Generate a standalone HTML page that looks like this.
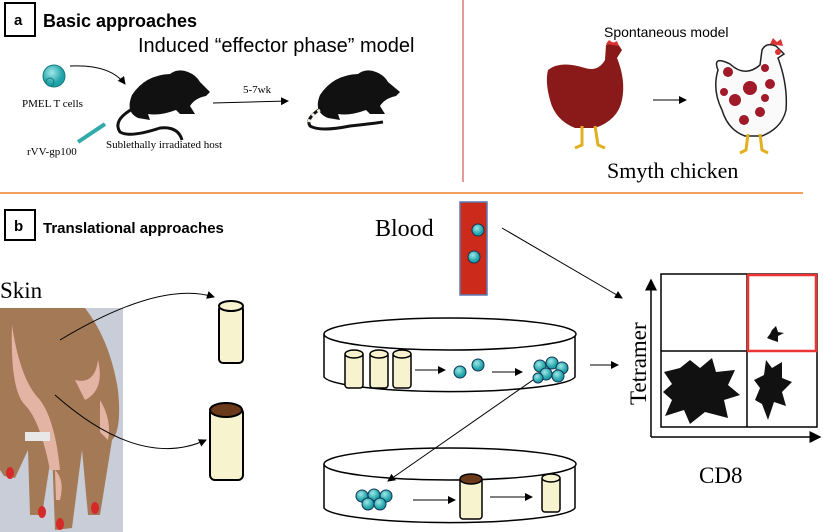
<!DOCTYPE html>
<html><head><style>body{margin:0;background:#fff}svg{display:block}</style></head><body>
<svg width="823" height="532" xmlns="http://www.w3.org/2000/svg" font-family="Liberation Serif, serif">
<defs><marker id="a" markerWidth="8" markerHeight="8" refX="7" refY="4" orient="auto"><path d="M0,0L8,4L0,8z" fill="#000"/></marker>
<radialGradient id="c" cx="40%" cy="35%"><stop offset="0" stop-color="#9fe8e8"/><stop offset="1" stop-color="#1fa3a8"/></radialGradient></defs>
<rect x="5" y="3" width="30" height="33" fill="none" stroke="#000" stroke-width="2"/>
<text x="14" y="25" font-family="Liberation Sans" font-weight="bold" font-size="15">a</text>
<text x="43" y="27" font-family="Liberation Sans" font-weight="bold" font-size="18">Basic approaches</text>
<text x="138" y="52" font-family="Liberation Sans" font-size="20">Induced “effector phase” model</text>
<circle cx="54" cy="76" r="11" fill="url(#c)" stroke="#17797c"/><circle cx="50" cy="82" r="4" fill="none" stroke="#17797c"/>
<text x="22" y="107" font-size="11">PMEL T cells</text>
<path d="M70,66 Q110,64 125,84" fill="none" stroke="#000" marker-end="url(#a)"/>
<line x1="78" y1="142" x2="105" y2="124" stroke="#3aa" stroke-width="4"/>
<text x="27" y="155" font-size="11">rVV-gp100</text>
<text x="106" y="148" font-size="11">Sublethally irradiated host</text>
<path d="M132,95 Q145,75 170,74 Q178,68 188,72 Q196,75 200,82 L210,92 L206,96 Q195,98 190,106 L195,114 L180,114 L176,110 Q160,116 148,114 L150,120 L138,118 Q125,112 132,95z" fill="#111"/>
<path d="M134,108 Q112,120 120,132 Q130,138 160,128 Q178,126 182,140" fill="none" stroke="#111" stroke-width="3"/>
<line x1="213" y1="103" x2="288" y2="101" stroke="#000" marker-end="url(#a)"/>
<text x="243" y="93" font-size="11">5-7wk</text>
<path d="M320,95 Q333,75 358,74 Q366,68 376,72 Q384,75 388,82 L400,92 L396,96 Q385,98 380,106 L385,114 L370,114 L366,110 Q350,116 338,114 L340,120 L328,118 Q313,112 320,95z" fill="#111"/>
<path d="M322,108 Q305,118 310,126 Q320,132 350,126 Q370,124 383,122" fill="none" stroke="#111" stroke-width="3"/>
<path d="M320,110 Q306,118 310,126" fill="none" stroke="#eed" stroke-width="3" stroke-dasharray="3,4"/>
<line x1="463" y1="0" x2="463" y2="182" stroke="#c33"/>
<text x="604" y="37" font-family="Liberation Sans" font-size="14">Spontaneous model</text>
<path d="M548,70 Q560,60 585,68 Q598,72 605,60 L606,45 Q612,40 618,44 L622,50 L617,58 Q626,80 622,100 Q618,120 595,128 L575,128 Q555,120 550,100 Q545,82 548,70z" fill="#8a1a1a"/>
<path d="M606,44 l3,-4 4,3 4,-2 2,5z" fill="#d33"/>
<g stroke="#e0b020" stroke-width="3" fill="none"><path d="M582,126 L582,145 L575,148"/><path d="M595,126 L598,145 L605,148"/></g>
<line x1="653" y1="100" x2="686" y2="100" stroke="#000" marker-end="url(#a)"/>
<path d="M718,70 Q712,55 730,64 Q745,78 760,65 L762,50 Q766,42 776,46 L784,54 L778,58 Q788,85 786,110 Q782,128 762,136 L745,136 Q728,130 722,110 Q712,90 718,70z" fill="#fafafa" stroke="#222" stroke-width="1.5"/>
<path d="M770,44 l3,-6 4,4 4,-3 2,7z" fill="#d33"/><circle cx="778" cy="52" r="3" fill="#d33"/>
<g fill="#a01a2a"><circle cx="728" cy="72" r="5"/><circle cx="750" cy="88" r="7"/><circle cx="735" cy="100" r="6"/><circle cx="760" cy="112" r="5"/><circle cx="770" cy="84" r="5"/><circle cx="724" cy="92" r="4"/><circle cx="744" cy="120" r="5"/><circle cx="765" cy="98" r="4"/><circle cx="765" cy="68" r="4"/></g>
<g stroke="#e0b020" stroke-width="3" fill="none"><path d="M748,134 L746,150 L740,153"/><path d="M760,134 L762,150 L768,153"/></g>
<text x="607" y="178" font-size="22">Smyth chicken</text>
<line x1="0" y1="193" x2="803" y2="193" stroke="#f0a060" stroke-width="2"/>
<rect x="5" y="210" width="30" height="30" fill="none" stroke="#000" stroke-width="2"/>
<text x="14" y="231" font-family="Liberation Sans" font-weight="bold" font-size="15">b</text>
<text x="43" y="233" font-family="Liberation Sans" font-weight="bold" font-size="15">Translational approaches</text>
<text x="0" y="298" font-size="23">Skin</text>
<rect x="0" y="308" width="123" height="224" fill="#c9cdd8"/>
<path d="M0,308 L85,308 Q110,340 118,390 Q122,430 112,440 L100,515 L88,515 L82,450 L72,528 L55,530 L52,450 L42,515 L30,515 L28,450 L15,478 L4,476 L0,470z" fill="#a47a56"/>
<path d="M12,325 Q20,380 40,400 Q55,420 60,470 L50,470 Q40,420 25,405 Q10,390 12,325z" fill="#e3b4a4"/>
<path d="M75,380 Q95,385 98,360 Q105,390 85,400z" fill="#e3b4a4"/>
<path d="M100,400 Q112,420 108,440 L100,432z" fill="#e3b4a4"/>
<path d="M55,470 Q65,480 60,500 L56,500z" fill="#e3b4a4"/>
<rect x="25" y="432" width="25" height="9" fill="#e8e8e8"/>
<g fill="#d42a2a"><ellipse cx="10" cy="473" rx="4" ry="6"/><ellipse cx="42" cy="512" rx="4" ry="6"/><ellipse cx="60" cy="524" rx="4" ry="6"/><ellipse cx="95" cy="508" rx="4" ry="6"/></g>
<path d="M60,340 Q160,280 214,297" fill="none" stroke="#000" marker-end="url(#a)"/>
<path d="M55,395 Q140,470 206,440" fill="none" stroke="#000" marker-end="url(#a)"/>
<g stroke="#000" stroke-width="2"><rect x="219" y="305" width="24" height="58" rx="4" fill="#f7f3cf"/><ellipse cx="231" cy="306" rx="12" ry="5" fill="#f7f3cf"/>
<rect x="210" y="408" width="33" height="72" rx="5" fill="#f7f3cf"/><ellipse cx="226" cy="410" rx="16" ry="7" fill="#6b3a1a"/></g>
<text x="375" y="236" font-size="24">Blood</text>
<rect x="460" y="202" width="27" height="93" fill="#cc2a1a" stroke="#5a7ab0" stroke-width="1.5"/>
<circle cx="478" cy="230" r="6" fill="url(#c)" stroke="#135"/><circle cx="474" cy="257" r="6" fill="url(#c)" stroke="#135"/>
<line x1="502" y1="228" x2="622" y2="298" stroke="#000" marker-end="url(#a)"/>
<g fill="#fff" stroke="#000" stroke-width="1.5">
<path d="M324,334 L324,377 A126,16 0 0 0 575,377 L575,334"/><ellipse cx="450" cy="334" rx="126" ry="16"/>
<path d="M324,464 L324,508 A126,16 0 0 0 575,508 L575,464"/><ellipse cx="450" cy="464" rx="126" ry="16"/></g>
<g fill="#f7f3cf" stroke="#000" stroke-width="1.5">
<rect x="345" y="352" width="18" height="36" rx="3"/><rect x="370" y="352" width="18" height="36" rx="3"/><rect x="393" y="352" width="18" height="36" rx="3"/>
<ellipse cx="354" cy="354" rx="9" ry="4"/><ellipse cx="379" cy="354" rx="9" ry="4"/><ellipse cx="402" cy="354" rx="9" ry="4"/>
<rect x="542" y="476" width="18" height="36" rx="3"/><ellipse cx="551" cy="478" rx="9" ry="4"/>
<rect x="460" y="477" width="22" height="42" rx="3"/></g>
<ellipse cx="471" cy="479" rx="11" ry="5" fill="#6b3a1a" stroke="#000" stroke-width="1.5"/>
<g stroke="#000"><line x1="415" y1="370" x2="445" y2="370" marker-end="url(#a)"/><line x1="492" y1="372" x2="522" y2="372" marker-end="url(#a)"/>
<line x1="590" y1="365" x2="618" y2="365" marker-end="url(#a)"/><line x1="413" y1="500" x2="455" y2="500" marker-end="url(#a)"/><line x1="490" y1="497" x2="532" y2="497" marker-end="url(#a)"/>
<line x1="533" y1="380" x2="388" y2="481" marker-end="url(#a)"/></g>
<g fill="url(#c)" stroke="#135">
<circle cx="460" cy="372" r="6"/><circle cx="478" cy="365" r="6"/>
<circle cx="540" cy="366" r="6"/><circle cx="552" cy="363" r="6"/><circle cx="562" cy="368" r="6"/><circle cx="546" cy="374" r="6"/><circle cx="558" cy="376" r="6"/><circle cx="538" cy="378" r="5"/>
<circle cx="362" cy="496" r="6"/><circle cx="374" cy="495" r="6"/><circle cx="386" cy="496" r="6"/><circle cx="368" cy="504" r="6"/><circle cx="380" cy="504" r="6"/></g>
<g stroke="#000" stroke-width="1.5" fill="none"><rect x="661" y="274" width="156" height="153"/><line x1="747" y1="274" x2="747" y2="427"/><line x1="661" y1="351" x2="817" y2="351"/>
<line x1="651" y1="437" x2="651" y2="280" marker-end="url(#a)"/><line x1="651" y1="437" x2="820" y2="437" marker-end="url(#a)"/></g>
<rect x="748" y="275" width="68" height="76" fill="none" stroke="#e33" stroke-width="2.5"/>
<path d="M664,372 L680,368 L690,360 L700,368 L712,358 L716,372 L735,370 L728,385 L740,395 L724,400 L728,418 L705,412 L690,424 L684,410 L665,416 L672,400 L663,392 L672,384z" fill="#111"/>
<path d="M766,360 L772,368 L782,362 L782,378 L792,382 L782,392 L786,406 L774,402 L768,420 L762,404 L755,400 L760,388 L754,380 L764,375z" fill="#111"/>
<path d="M772,330 L776,326 L778,332 L784,333 L778,336 L778,342 L772,340 L767,338 L770,334z" fill="#111"/>
<text transform="translate(646,405) rotate(-90)" font-size="23">Tetramer</text>
<text x="699" y="483" font-size="23">CD8</text>
</svg>
</body></html>
